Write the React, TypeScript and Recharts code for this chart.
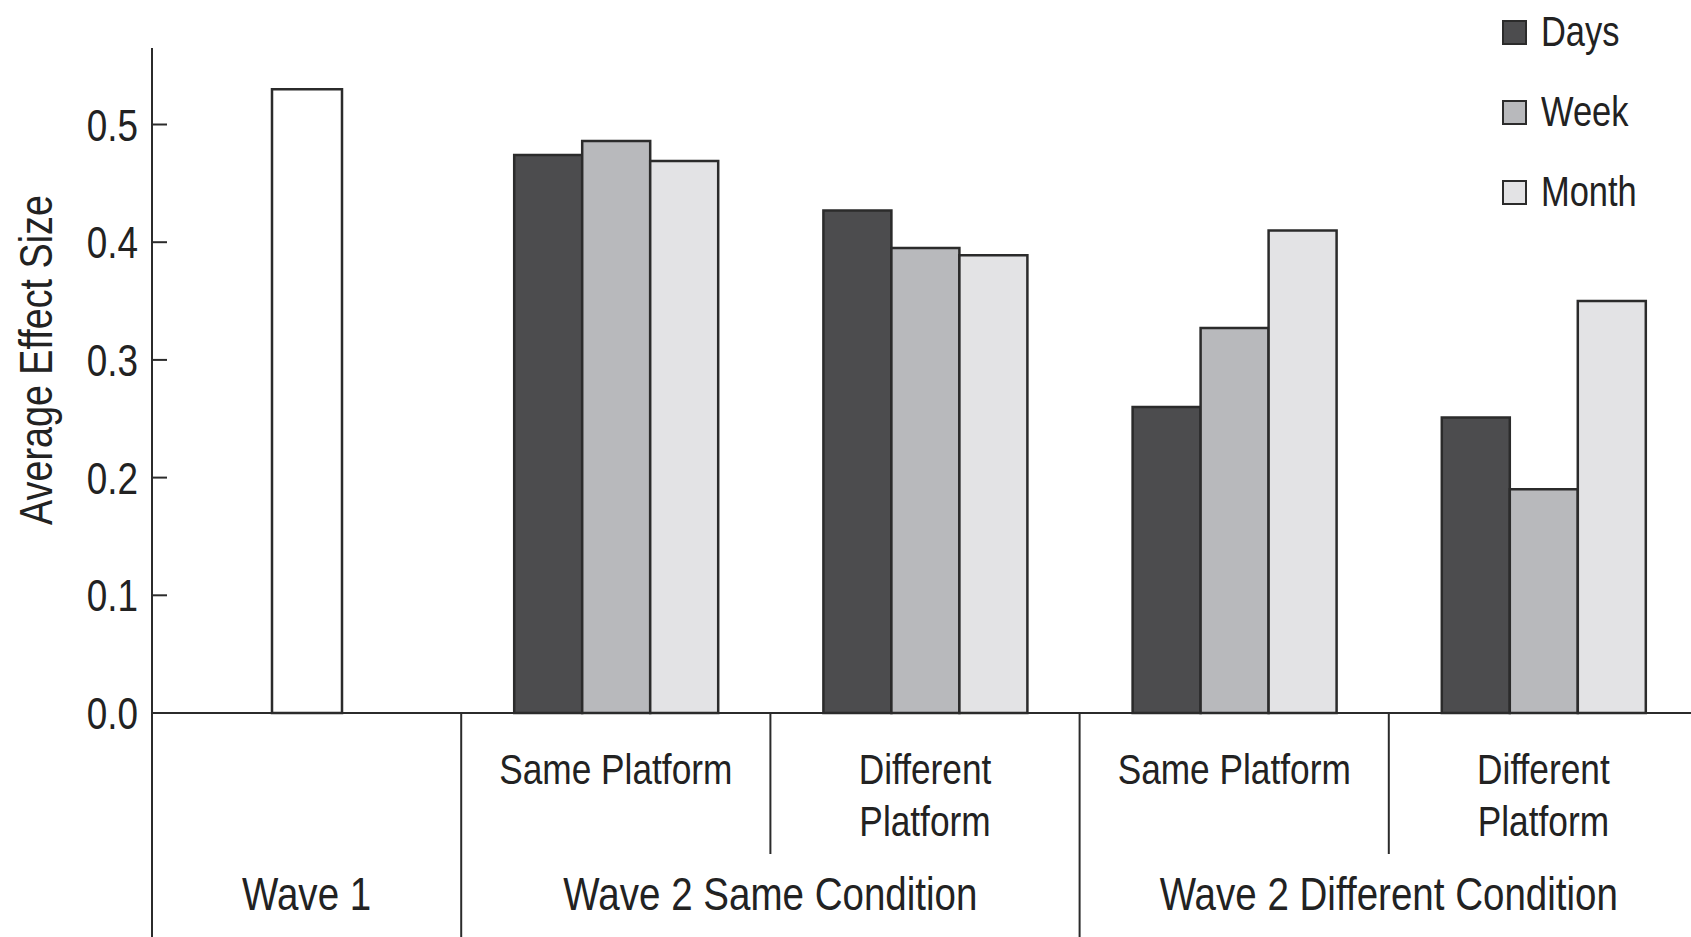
import React from "react"
import { BarChart, Bar, XAxis, YAxis } from "recharts"

const categories = ["wave1", "w2s-same", "w2s-diff", "w2d-same", "w2d-diff"]
const subLabels = [[], ["Same Platform"], ["Different", "Platform"], ["Same Platform"], ["Different", "Platform"]]
const groupNames = ["Wave 1", "Wave 2 Same Condition", "Wave 2 Different Condition"]
const groupOf = [0, 1, 1, 2, 2]

const wave1 = [0.53, null, null, null, null]
const days = [null, 0.474, 0.427, 0.26, 0.251]
const week = [null, 0.486, 0.395, 0.327, 0.19]
const month = [null, 0.469, 0.389, 0.41, 0.35]
const yTicks = [0, 0.1, 0.2, 0.3, 0.4, 0.5]

const series = [
  { key: "days", name: "Days", color: "#4c4c4e" },
  { key: "week", name: "Week", color: "#b8b9bc" },
  { key: "month", name: "Month", color: "#e3e3e5" },
]

const data = categories.map((cat, i) => ({
  cat,
  wave1: wave1[i],
  days: days[i],
  week: week[i],
  month: month[i],
}))

// no condensed font installed, so squeeze Liberation Sans horizontally
const FONT = "'Liberation Sans', Arial, sans-serif"
const SQ = 0.82
const INK = "#2b2b2b"
const TXT = "#222"
const W = 1700
const H = 937
const LEFT = 152
const RIGHT = 2
const BAND = (W - LEFT - RIGHT) / categories.length

function Narrow({ x, y, size, anchor = "middle", rotate = 0, children }: any) {
  return (
    <text
      transform={`translate(${x},${y}) rotate(${rotate}) scale(${SQ},1)`}
      textAnchor={anchor}
      fontSize={size}
      fontFamily={FONT}
      fill={TXT}
    >
      {children}
    </text>
  )
}

function YTick({ x, y, payload }: any) {
  return (
    <g>
      <line x1={x} x2={x + 15} y1={y} y2={y} stroke={INK} strokeWidth={2} />
      <Narrow x={x - 14} y={y + 16} size={45} anchor="end">
        {payload.value.toFixed(1)}
      </Narrow>
    </g>
  )
}

function CatTick({ x, y, index }: any) {
  const left = x - BAND / 2
  const g = groupOf[index]
  const first = index === 0 || groupOf[index - 1] !== g
  const span = groupOf.filter((v) => v === g).length
  return (
    <g>
      <line x1={left} x2={left} y1={y} y2={first ? H : y + 141} stroke={INK} strokeWidth={2} />
      {subLabels[index].map((s, k) => (
        <Narrow key={k} x={x} y={y + 71 + k * 52} size={43}>
          {s}
        </Narrow>
      ))}
      {first && (
        <Narrow x={left + (span * BAND) / 2} y={y + 197} size={47}>
          {groupNames[g]}
        </Narrow>
      )}
    </g>
  )
}

function LegendBox() {
  return (
    <div style={{ position: "absolute", left: 1502, top: -8, fontFamily: FONT, fontSize: 42, color: TXT }}>
      {series.map((s) => (
        <div key={s.key} style={{ display: "flex", alignItems: "center", height: 80 }}>
          <div
            style={{
              width: 21,
              height: 21,
              background: s.color,
              border: `2px solid ${INK}`,
              marginRight: 14,
            }}
          />
          <span style={{ display: "inline-block", transform: `scaleX(${SQ})`, transformOrigin: "left center" }}>
            {s.name}
          </span>
        </div>
      ))}
    </div>
  )
}

export default function App() {
  return (
    <div style={{ position: "absolute", left: 0, top: 0, width: 1691, height: 937, overflow: "hidden", background: "#fff" }}>
      <BarChart width={W} height={H} data={data} margin={{ top: 48, right: RIGHT, left: 0, bottom: 0 }} barGap={0}>
        <XAxis
          xAxisId="main"
          dataKey="cat"
          height={224}
          interval={0}
          tickLine={false}
          tickSize={0}
          tickMargin={0}
          axisLine={{ stroke: INK, strokeWidth: 2 }}
          tick={<CatTick />}
        />
        <XAxis xAxisId="single" dataKey="cat" hide />
        <YAxis
          width={LEFT}
          domain={[0, 0.565]}
          ticks={yTicks}
          tickLine={false}
          tickSize={0}
          tickMargin={0}
          axisLine={{ stroke: INK, strokeWidth: 2 }}
          tick={<YTick />}
          label={() => (
            <Narrow x={52} y={360} size={46} rotate={-90}>
              Average Effect Size
            </Narrow>
          )}
        />
        <Bar
          xAxisId="single"
          dataKey="wave1"
          barSize={70}
          fill="#ffffff"
          stroke={INK}
          strokeWidth={2.5}
          isAnimationActive={false}
          legendType="none"
        />
        {series.map((s) => (
          <Bar
            key={s.key}
            xAxisId="main"
            dataKey={s.key}
            name={s.name}
            barSize={68}
            fill={s.color}
            stroke={INK}
            strokeWidth={2.5}
            isAnimationActive={false}
          />
        ))}
      </BarChart>
      <LegendBox />
    </div>
  )
}
